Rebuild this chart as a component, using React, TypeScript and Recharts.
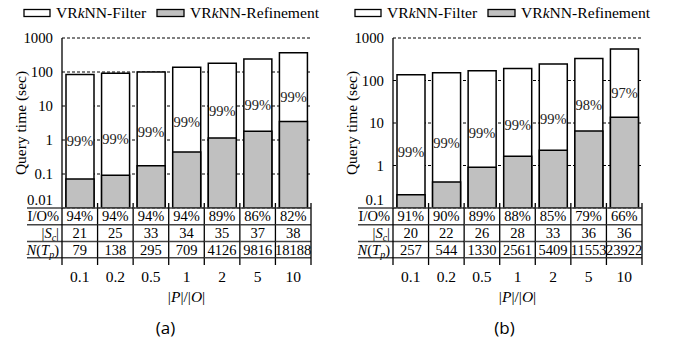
import React from 'react';
import { BarChart, Bar, XAxis, YAxis, CartesianGrid, Legend, LabelList } from 'recharts';

// ---------- data ----------
const categories = ['0.1', '0.2', '0.5', '1', '2', '5', '10'];

// panel (a)
const totalA = [85, 92, 100, 137, 180, 242, 370];
const refineA = [0.071, 0.092, 0.175, 0.44, 1.15, 1.8, 3.5];
const pctA = ['99%', '99%', '99%', '99%', '99%', '99%', '99%'];
const ioA = ['94%', '94%', '94%', '94%', '89%', '86%', '82%'];
const scA = ['21', '25', '33', '34', '35', '37', '38'];
const ntpA = ['79', '138', '295', '709', '4126', '9816', '18188'];
const ticksA = [0.01, 0.1, 1, 10, 100, 1000];

// panel (b)
const totalB = [136, 152, 169, 191, 246, 328, 552];
const refineB = [0.206, 0.41, 0.91, 1.66, 2.3, 6.5, 13.6];
const pctB = ['99%', '99%', '99%', '99%', '99%', '98%', '97%'];
const ioB = ['91%', '90%', '89%', '88%', '85%', '79%', '66%'];
const scB = ['20', '22', '26', '28', '33', '36', '36'];
const ntpB = ['257', '544', '1330', '2561', '5409', '11553', '23922'];
const ticksB = [0.1, 1, 10, 100, 1000];

// ---------- layout ----------
const SERIF = '"Liberation Serif", "Times New Roman", serif';
const W = 337;
const H = 350;
const MARGIN = { top: 14, right: 26, bottom: 0, left: 0 };
const YW = 62;
const PLOT_W = W - YW - MARGIN.right - MARGIN.left;
const BAND = PLOT_W / categories.length;

type Row = {
  cat: string; total: number; refine: number; pct: string; io: string; sc: string; ntp: string;
};

function buildRows(total: number[], refine: number[], pct: string[], io: string[], sc: string[], ntp: string[]): Row[] {
  return categories.map((c, i) => ({ cat: c, total: total[i], refine: refine[i], pct: pct[i], io: io[i], sc: sc[i], ntp: ntp[i] }));
}

const dataA = buildRows(totalA, refineA, pctA, ioA, scA, ntpA);
const dataB = buildRows(totalB, refineB, pctB, ioB, scB, ntpB);

const LegendContent = () => (
  <svg width={W} height={24} style={{ display: 'block' }}>
    <rect x={24} y={9.5} width={26} height={7} fill="#fff" stroke="#000" strokeWidth={1.3} />
    <text x={56} y={17.5} fontFamily={SERIF} fontSize={15.6} fill="#000">
      VR<tspan fontStyle="italic">k</tspan>NN-Filter
    </text>
    <rect x={157} y={9.5} width={27} height={7} fill="#c0c0c0" stroke="#000" strokeWidth={1.3} />
    <text x={190} y={17.5} fontFamily={SERIF} fontSize={15.6} fill="#000">
      VR<tspan fontStyle="italic">k</tspan>NN-Refinement
    </text>
  </svg>
);

const TableTick = (props: any) => {
  const { x, y, index, rows } = props;
  const d: Row = rows[index];
  const half = BAND / 2;
  const left = x - half;
  const right = x + half;
  const lines = [y, y + 16.7, y + 33.4, y + 49.7];
  const fs = 14.5;
  return (
    <g>
      {lines.map((ly: number, k: number) => (
        <line key={k} x1={index === 0 ? left - 35 : left} x2={right} y1={ly} y2={ly} stroke="#444" strokeWidth={1.5} />
      ))}
      <line x1={right} x2={right} y1={y - 5} y2={y + 57} stroke="#000" strokeWidth={1.3} />
      {index === 0 && <line x1={left} x2={left} y1={y} y2={y + 57} stroke="#000" strokeWidth={1.3} />}
      <text x={x} y={y + 13} textAnchor="middle" fontFamily={SERIF} fontSize={fs} fill="#000">{d.io}</text>
      <text x={x} y={y + 30} textAnchor="middle" fontFamily={SERIF} fontSize={fs} fill="#000">{d.sc}</text>
      <text x={x} y={y + 46.5} textAnchor="middle" fontFamily={SERIF} fontSize={fs} fill="#000">{d.ntp}</text>
      <text x={x} y={y + 73.5} textAnchor="middle" fontFamily={SERIF} fontSize={15.5} fill="#000">{d.cat}</text>
      {index === 0 && (
        <g fontFamily={SERIF} fontSize={fs} fill="#000">
          <text x={left - 3} y={y + 13} textAnchor="end">I/O%</text>
          <text x={left - 3} y={y + 30} textAnchor="end">
            |<tspan fontStyle="italic">S</tspan><tspan fontStyle="italic" fontSize={10} dy={3}>c</tspan><tspan dy={-3}>|</tspan>
          </text>
          <text x={left - 3} y={y + 46.5} textAnchor="end">
            <tspan fontStyle="italic">N</tspan>(<tspan fontStyle="italic">T</tspan><tspan fontStyle="italic" fontSize={10} dy={3}>p</tspan><tspan dy={-3}>)</tspan>
          </text>
        </g>
      )}
    </g>
  );
};

const YTick = (props: any) => {
  const { x, y, payload, yMin } = props;
  const v = payload.value;
  return (
    <text x={x} y={v === yMin ? y - 8 : y} dy={5} textAnchor="end" fontFamily={SERIF} fontSize={14.8} fill="#000">
      {String(v)}
    </text>
  );
};

const PctLabel = (props: any) => {
  const { x, y, width, height, value, index, rows, yMin } = props;
  const d: Row = rows[index];
  if (!d || height == null) return null;
  const bottom = y + height;
  const span = Math.log10(d.total) - Math.log10(yMin);
  const greyTop = bottom - (height * (Math.log10(d.refine) - Math.log10(yMin))) / span;
  const cy = y + 0.64 * (greyTop - y);
  return (
    <text x={x + width / 2} y={cy} dy={5} textAnchor="middle" fontFamily={SERIF} fontSize={14.5} fill="#222">
      {value}
    </text>
  );
};

const Panel = ({ rows, yMin, ticks, caption, capShift }: { rows: Row[]; yMin: number; ticks: number[]; caption: string; capShift: number }) => (
  <BarChart width={W} height={H} data={rows} margin={MARGIN} barSize={28}>
    <Legend verticalAlign="top" align="left" content={() => <LegendContent />} wrapperStyle={{ top: 0, left: 0, width: W, height: 24 }} />
    <CartesianGrid vertical={false} stroke="#000" strokeDasharray="3 2" strokeWidth={1} />
    <XAxis
      xAxisId="main"
      dataKey="cat"
      type="category"
      height={H - 208}
      axisLine={false}
      tickLine={false}
      tickSize={0}
      tickMargin={0}
      interval={0}
      tick={(p: any) => <TableTick {...p} rows={rows} />}
      label={(p: any) => {
        const vb = p.viewBox || {};
        const cx = vb.x + vb.width / 2;
        return (
          <g>
            <text x={cx} y={vb.y + 93.5} textAnchor="middle" fontFamily={SERIF} fontSize={15.5} fill="#000">
              |<tspan fontStyle="italic">P</tspan>|/|<tspan fontStyle="italic">O</tspan>|
            </text>
            <text x={cx + capShift} y={vb.y + 126} textAnchor="middle" fontFamily='"Open Sans", "Noto Sans", sans-serif' fontSize={17} fill="#000">
              {caption}
            </text>
          </g>
        );
      }}
    />
    <XAxis xAxisId="over" dataKey="cat" type="category" hide />
    <YAxis
      type="number"
      scale="log"
      domain={[yMin, 1000]}
      ticks={ticks}
      width={YW}
      allowDataOverflow
      axisLine={{ stroke: '#000', strokeWidth: 1.3 }}
      tickLine={false}
      tickSize={0}
      tickMargin={9}
      tick={(p: any) => <YTick {...p} yMin={yMin} />}
      label={(p: any) => {
        const vb = p.viewBox || {};
        const cx = 20;
        const cy = vb.y + vb.height / 2;
        return (
          <text x={cx} y={cy} transform={`rotate(-90 ${cx} ${cy})`} textAnchor="middle" dominantBaseline="central" fontFamily={SERIF} fontSize={15.5} fill="#000">
            Query time (sec)
          </text>
        );
      }}
    />
    <Bar xAxisId="main" dataKey="total" name="VRkNN-Filter" fill="#ffffff" stroke="#000" strokeWidth={1.5} isAnimationActive={false}>
      <LabelList dataKey="pct" content={(p: any) => <PctLabel {...p} rows={rows} yMin={yMin} />} />
    </Bar>
    <Bar xAxisId="over" dataKey="refine" name="VRkNN-Refinement" fill="#c0c0c0" stroke="#000" strokeWidth={1.5} isAnimationActive={false} />
  </BarChart>
);

export default function App() {
  return (
    <div style={{ position: 'absolute', left: 0, top: 0, width: 675, height: 350, background: '#fff', overflow: 'hidden' }}>
      <div style={{ position: 'absolute', left: 0, top: 0 }}>
        <Panel rows={dataA} yMin={0.01} ticks={ticksA} caption="(a)" capShift={-21} />
      </div>
      <div style={{ position: 'absolute', left: 331, top: 0 }}>
        <Panel rows={dataB} yMin={0.1} ticks={ticksB} caption="(b)" capShift={-13} />
      </div>
    </div>
  );
}
